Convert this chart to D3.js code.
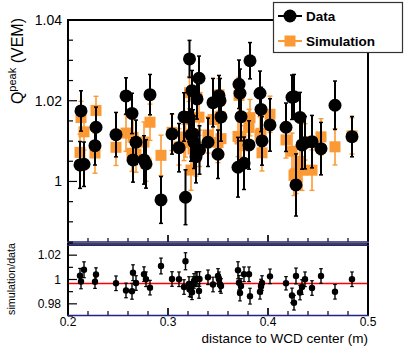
<!DOCTYPE html>
<html><head><meta charset="utf-8">
<script src="https://cdn.jsdelivr.net/npm/d3@7"></script>
<style>body{margin:0;background:#fff}svg{display:block}text{font-family:"Liberation Sans",Arial,sans-serif}</style>
</head><body>
<script>
const distance = [0.212,0.213,0.216,0.227,0.228,0.248,0.258,0.265,0.264,0.268,0.276,0.278,0.282,0.293,0.304,0.311,0.316,0.3175,0.321,0.3215,0.323,0.324,0.325,0.326,0.328,0.329,0.331,0.3315,0.340,0.345,0.350,0.351,0.352,0.353,0.370,0.371,0.372,0.373,0.376,0.381,0.382,0.392,0.393,0.394,0.402,0.418,0.424,0.426,0.428,0.432,0.434,0.437,0.444,0.453,0.467,0.484];
const dataVal = [1.00409,1.01747,1.00426,1.00887,1.01343,1.01160,1.02118,1.00533,1.01685,1.00971,1.00533,1.00434,1.02151,0.99542,1.01177,1.00837,1.01598,0.99609,1.01591,1.03035,1.01152,1.02250,1.01177,1.00971,1.00614,1.02044,1.02557,1.00780,1.00971,1.01952,1.00674,1.02126,1.02002,1.01598,1.00352,1.02408,1.02185,1.01606,1.00451,1.00904,1.02991,1.02185,1.01784,1.01003,1.01400,1.01343,1.02086,1.02101,0.99913,1.01586,1.00904,1.00961,1.00986,1.00813,1.01888,1.01110];
const dataErr = [0.0058,0.0050,0.0055,0.0048,0.0050,0.0055,0.0045,0.0055,0.0050,0.0055,0.0060,0.0060,0.0050,0.0058,0.0050,0.0060,0.0060,0.0068,0.0060,0.0046,0.0065,0.0050,0.0060,0.0065,0.0065,0.0050,0.0055,0.0060,0.0060,0.0060,0.0060,0.0050,0.0055,0.0060,0.0074,0.0060,0.0060,0.0060,0.0065,0.0060,0.0045,0.0055,0.0055,0.0060,0.0065,0.0060,0.0055,0.0055,0.0077,0.0062,0.0060,0.0065,0.0065,0.0065,0.0060,0.0050];
const simVal = [1.00720,1.01584,1.01229,1.00705,1.01759,1.00846,1.01199,1.01096,1.00699,1.00678,1.00975,1.00454,1.01467,1.00647,1.01217,1.00857,1.00968,1.01103,1.01532,1.02200,1.00282,1.01176,1.00803,1.00850,1.00634,1.02085,1.01593,1.00820,1.01153,1.01534,1.00966,1.02146,1.01604,1.01060,1.01115,1.02132,1.01051,1.01067,1.00883,1.01338,1.01580,1.01153,1.01194,1.00710,1.01664,1.01029,1.00749,1.00151,1.00203,1.00499,1.00278,1.00981,1.00279,1.01105,1.00859,1.01130];
const simErr = [0.0045,0.0040,0.0045,0.0050,0.0035,0.0045,0.0045,0.0045,0.0045,0.0045,0.0050,0.0045,0.0045,0.0050,0.0045,0.0045,0.0045,0.0050,0.0045,0.0040,0.0050,0.0045,0.0045,0.0045,0.0050,0.0040,0.0045,0.0045,0.0045,0.0045,0.0050,0.0040,0.0045,0.0045,0.0050,0.0045,0.0045,0.0045,0.0050,0.0045,0.0045,0.0045,0.0045,0.0045,0.0045,0.0045,0.0045,0.0050,0.0050,0.0045,0.0050,0.0045,0.0050,0.0045,0.0045,0.0045];
const ratioVal = [1.0031,0.9984,1.0080,0.9982,1.0041,0.9969,0.9910,1.0056,0.9903,0.9971,1.0044,1.0002,0.9933,1.0111,1.0004,1.0002,0.9938,1.0150,0.9963,0.9919,0.9914,0.9895,0.9963,0.9988,1.0002,1.0004,0.9906,1.0004,1.0018,0.9959,1.0029,1.0002,0.9961,0.9947,1.0076,0.9973,0.9889,0.9947,1.0043,1.0043,0.9863,0.9899,0.9942,0.9971,1.0026,0.9969,0.9869,0.9809,1.0029,0.9893,0.9938,1.0002,0.9930,1.0029,0.9899,1.0002];
const ratioErr = [0.0060,0.0060,0.0065,0.0055,0.0055,0.0060,0.0060,0.0065,0.0065,0.0060,0.0060,0.0060,0.0060,0.0065,0.0060,0.0060,0.0060,0.0070,0.0060,0.0060,0.0060,0.0060,0.0060,0.0060,0.0060,0.0060,0.0060,0.0060,0.0060,0.0060,0.0060,0.0060,0.0060,0.0060,0.0070,0.0060,0.0065,0.0060,0.0060,0.0060,0.0065,0.0060,0.0060,0.0060,0.0060,0.0055,0.0060,0.0060,0.0065,0.0060,0.0060,0.0060,0.0060,0.0060,0.0060,0.0060];
const fitValue = 0.9967;
const xTickLabels = [0.2,0.3,0.4,0.5];
const yTopTickLabels = [1,1.02,1.04];
const yBotTickLabels = [0.98,1,1.02];
const legendLabels = ["Data","Simulation"];

const W=404,H=347;
const svg=d3.select("body").append("svg").attr("width",W).attr("height",H);
const x=d3.scaleLinear().domain([0.2,0.5]).range([68,368]);
const yT=d3.scaleLinear().domain([0.985,1.04]).range([242,20]);
const yB=d3.scaleLinear().domain([0.97,1.03]).range([316,243]);
const ORANGE="#fb9a35", NAVY="#22228a";
const fmt=v=>String(+v.toFixed(3));

// ---- top panel axes
const gT=svg.append("g");
const yMinorT=d3.range(0,12).map(i=>+(0.985+i*0.005).toFixed(3));
yMinorT.forEach(v=>{
  const major=yTopTickLabels.some(t=>Math.abs(t-v)<1e-6);
  gT.append("line").attr("x1",68).attr("x2",68+(major?9:5)).attr("y1",yT(v)).attr("y2",yT(v)).attr("stroke","#000").attr("stroke-width",1.2);
});
yTopTickLabels.forEach(v=>gT.append("text").attr("x",62).attr("y",yT(v)).attr("dy","0.36em").attr("text-anchor","end").attr("font-size",14).text(fmt(v)));
const xMinor=d3.range(0,16).map(i=>+(0.2+i*0.02).toFixed(2));
const xMajorAll=d3.range(0,4).map(i=>+(0.2+i*0.1).toFixed(1));
xMinor.concat(xMajorAll).forEach(v=>{
  const major=xMajorAll.includes(v);
  gT.append("line").attr("x1",x(v)).attr("x2",x(v)).attr("y1",242).attr("y2",242-(major?7:4)).attr("stroke","#000").attr("stroke-width",1.2);
});
// frame
gT.append("line").attr("x1",68).attr("x2",68).attr("y1",19).attr("y2",242).attr("stroke","#000").attr("stroke-width",2);
gT.append("line").attr("x1",67).attr("x2",368).attr("y1",20).attr("y2",20).attr("stroke","#000").attr("stroke-width",2);
gT.append("line").attr("x1",368).attr("x2",368).attr("y1",19).attr("y2",242).attr("stroke","#000").attr("stroke-width",2);
gT.append("line").attr("x1",67).attr("x2",369).attr("y1",242).attr("y2",242).attr("stroke",NAVY).attr("stroke-width",1.5);

// y title top
const tt=svg.append("text").attr("transform","translate(23,18) rotate(-90)").attr("text-anchor","end").attr("font-size",16);
tt.append("tspan").text("Q");
tt.append("tspan").attr("font-size",11).attr("dy",-7).text("peak");
tt.append("tspan").attr("dy",7).text(" (VEM)");

// sim points
const sim=svg.append("g");
distance.forEach((d,i)=>{
  const cx=x(d);
  sim.append("line").attr("x1",cx).attr("x2",cx).attr("y1",yT(simVal[i]-simErr[i])).attr("y2",yT(simVal[i]+simErr[i])).attr("stroke",ORANGE).attr("stroke-width",1.6);
  [simVal[i]-simErr[i],simVal[i]+simErr[i]].forEach(v=>sim.append("line").attr("x1",cx-2.5).attr("x2",cx+2.5).attr("y1",yT(v)).attr("y2",yT(v)).attr("stroke",ORANGE).attr("stroke-width",1.4));
  sim.append("rect").attr("x",cx-5.5).attr("y",yT(simVal[i])-5.5).attr("width",11).attr("height",11).attr("fill",ORANGE);
});
// data points
const dat=svg.append("g");
distance.forEach((d,i)=>{
  const cx=x(d);
  dat.append("line").attr("x1",cx).attr("x2",cx).attr("y1",yT(dataVal[i]-dataErr[i])).attr("y2",yT(dataVal[i]+dataErr[i])).attr("stroke","#000").attr("stroke-width",2);
  [dataVal[i]-dataErr[i],dataVal[i]+dataErr[i]].forEach(v=>dat.append("line").attr("x1",cx-2).attr("x2",cx+2).attr("y1",yT(v)).attr("y2",yT(v)).attr("stroke","#000").attr("stroke-width",1.5));
  dat.append("circle").attr("cx",cx).attr("cy",yT(dataVal[i])).attr("r",6.5).attr("fill","#000");
});

// legend
const lg=svg.append("g");
lg.append("rect").attr("x",273.5).attr("y",2.5).attr("width",129).attr("height",50).attr("fill","#fff").attr("stroke","#333").attr("stroke-width",1.2);
lg.append("line").attr("x1",278).attr("x2",302).attr("y1",16).attr("y2",16).attr("stroke","#000").attr("stroke-width",2);
lg.append("circle").attr("cx",290).attr("cy",16).attr("r",6.5).attr("fill","#000");
lg.append("line").attr("x1",278).attr("x2",302).attr("y1",41).attr("y2",41).attr("stroke",ORANGE).attr("stroke-width",2);
lg.append("rect").attr("x",284.5).attr("y",35.5).attr("width",11).attr("height",11).attr("fill",ORANGE);
lg.append("text").attr("x",306).attr("y",21).attr("font-size",13.5).attr("font-weight","bold").text(legendLabels[0]);
lg.append("text").attr("x",306).attr("y",46).attr("font-size",13.5).attr("font-weight","bold").text(legendLabels[1]);

// ---- bottom panel
const gB=svg.append("g");
gB.append("line").attr("x1",68).attr("x2",368).attr("y1",yB(fitValue)).attr("y2",yB(fitValue)).attr("stroke","#ff0000").attr("stroke-width",1.5);
[0.97,0.98,0.99,1,1.01,1.02,1.03].forEach(v=>{
  const major=yBotTickLabels.some(t=>Math.abs(t-v)<1e-6);
  gB.append("line").attr("x1",68).attr("x2",68+(major?9:5)).attr("y1",yB(v)).attr("y2",yB(v)).attr("stroke","#000").attr("stroke-width",1.2);
});
yBotTickLabels.forEach(v=>gB.append("text").attr("x",61).attr("y",yB(v)).attr("dy","0.36em").attr("text-anchor","end").attr("font-size",12).text(fmt(v)));
xMinor.concat(xMajorAll).forEach(v=>{
  const major=xMajorAll.includes(v);
  gB.append("line").attr("x1",x(v)).attr("x2",x(v)).attr("y1",315).attr("y2",315-(major?7:4)).attr("stroke","#000").attr("stroke-width",1.2);
});
xTickLabels.forEach(v=>gB.append("text").attr("x",x(v)).attr("y",326).attr("text-anchor","middle").attr("font-size",12).text(fmt(v)));
gB.append("text").attr("x",368).attr("y",342.5).attr("text-anchor","end").attr("font-size",13.5).text("distance to WCD center (m)");
gB.append("text").attr("transform","translate(15,279) rotate(-90)").attr("text-anchor","middle").attr("font-size",10.7).text("simulation/data");

distance.forEach((d,i)=>{
  const cx=x(d);
  gB.append("line").attr("x1",cx).attr("x2",cx).attr("y1",yB(ratioVal[i]-ratioErr[i])).attr("y2",yB(ratioVal[i]+ratioErr[i])).attr("stroke","#000").attr("stroke-width",1.4);
  [ratioVal[i]-ratioErr[i],ratioVal[i]+ratioErr[i]].forEach(v=>gB.append("line").attr("x1",cx-1.8).attr("x2",cx+1.8).attr("y1",yB(v)).attr("y2",yB(v)).attr("stroke","#000").attr("stroke-width",1.2));
  gB.append("circle").attr("cx",cx).attr("cy",yB(ratioVal[i])).attr("r",3.2).attr("fill","#000");
});
gB.append("line").attr("x1",68).attr("x2",68).attr("y1",243).attr("y2",316).attr("stroke","#000").attr("stroke-width",2);
gB.append("line").attr("x1",368).attr("x2",368).attr("y1",243).attr("y2",316).attr("stroke","#000").attr("stroke-width",2);
gB.append("line").attr("x1",67).attr("x2",369).attr("y1",244).attr("y2",244).attr("stroke","#000").attr("stroke-width",1.5);
gB.append("line").attr("x1",67).attr("x2",369).attr("y1",245.5).attr("y2",245.5).attr("stroke",NAVY).attr("stroke-width",1);
gB.append("line").attr("x1",67).attr("x2",369).attr("y1",315.5).attr("y2",315.5).attr("stroke",NAVY).attr("stroke-width",1.5);
</script>
</body></html>
